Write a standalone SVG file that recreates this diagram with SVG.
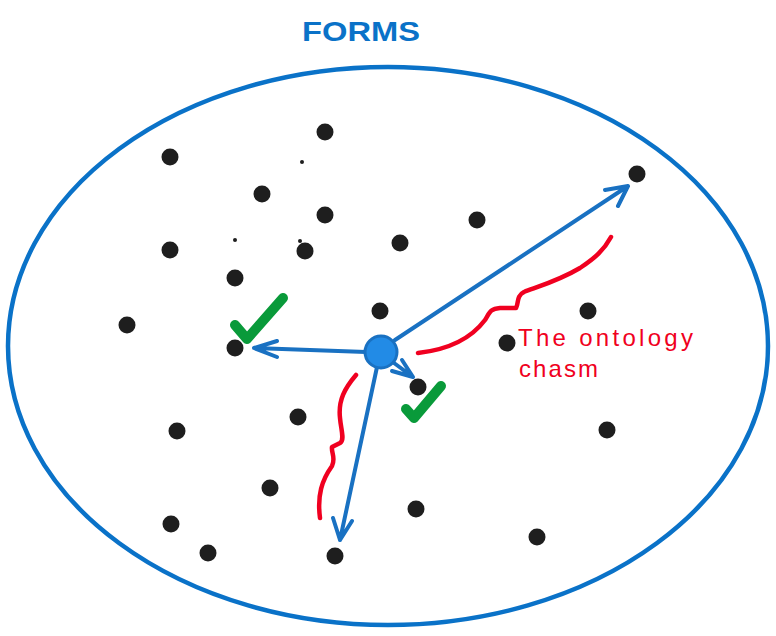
<svg xmlns="http://www.w3.org/2000/svg" width="776" height="636" viewBox="0 0 776 636">
<style>
.dot{fill:#1e1e1e}
.blue{fill:none;stroke:#1971c2;stroke-width:4;stroke-linecap:round;stroke-linejoin:round}
.red2{fill:none;stroke:#f00020;stroke-width:4.5;stroke-linecap:round;stroke-linejoin:round}
.green{fill:none;stroke:#099a3a;stroke-width:10;stroke-linecap:round;stroke-linejoin:round}
.t{font-family:"Liberation Sans",Arial,sans-serif}
</style>
<rect width="776" height="636" fill="#fff"/>
<g id="forms">
<ellipse cx="388" cy="346" rx="380" ry="279" fill="none" stroke="#0a72c8" stroke-width="4.5"/>
<text class="t" x="302" y="41" font-size="28" font-weight="bold" fill="#0a72c8" textLength="118" lengthAdjust="spacingAndGlyphs">FORMS</text>
</g>
<g id="dots">
<circle class="dot" cx="325" cy="132" r="8.5"/>
<circle class="dot" cx="170" cy="157" r="8.5"/>
<circle class="dot" cx="262" cy="194" r="8.5"/>
<circle class="dot" cx="325" cy="215" r="8.5"/>
<circle class="dot" cx="477" cy="220" r="8.5"/>
<circle class="dot" cx="170" cy="250" r="8.5"/>
<circle class="dot" cx="305" cy="251" r="8.5"/>
<circle class="dot" cx="400" cy="243" r="8.5"/>
<circle class="dot" cx="235" cy="278" r="8.5"/>
<circle class="dot" cx="127" cy="325" r="8.5"/>
<circle class="dot" cx="380" cy="311" r="8.5"/>
<circle class="dot" cx="588" cy="311" r="8.5"/>
<circle class="dot" cx="507" cy="343" r="8.5"/>
<circle class="dot" cx="235" cy="348" r="8.5"/>
<circle class="dot" cx="418" cy="387" r="8.5"/>
<circle class="dot" cx="298" cy="417" r="8.5"/>
<circle class="dot" cx="177" cy="431" r="8.5"/>
<circle class="dot" cx="607" cy="430" r="8.5"/>
<circle class="dot" cx="270" cy="488" r="8.5"/>
<circle class="dot" cx="416" cy="509" r="8.5"/>
<circle class="dot" cx="171" cy="524" r="8.5"/>
<circle class="dot" cx="208" cy="553" r="8.5"/>
<circle class="dot" cx="335" cy="556" r="8.5"/>
<circle class="dot" cx="537" cy="537" r="8.5"/>
<circle class="dot" cx="637" cy="174" r="8.5"/>
<circle class="dot" cx="302" cy="162" r="2"/>
<circle class="dot" cx="235" cy="240" r="2"/>
<circle class="dot" cx="300" cy="241" r="2"/>
</g>
<g id="connectors">
<path class="blue" d="M395 340 L628 186 M605 190 L628 186 L618 206"/>
<path class="blue" d="M366 352 L254 348 M277 341 L254 348 L277 357"/>
<path class="blue" d="M394 363 L413 377 M402 360 L413 377 L392 371"/>
<path class="blue" d="M377 367 L340 540 M333 518 L340 540 L352 521"/>
</g>
<g id="center">
<circle cx="381" cy="352" r="16" fill="#228be6" stroke="#1971c2" stroke-width="3"/>
</g>
<g id="checks">
<path class="green" d="M235 325 L247 339 L283 298"/>
<path class="green" d="M406 409 L414 418 L441 386"/>
</g>
<g id="chasm">
<path class="red2" d="M418 353 C445 350 470 340 485 320 C490 312 490 309 500 308 L516 308 C519 303 516 296 524 292 C540 286 560 280 580 268 C595 258 604 250 611 237"/>
<path class="red2" d="M356 375 C345 388 338 400 340 418 C341 430 345 440 340 443 L332 447 C331 452 336 458 332 466 C322 480 317 495 320 518"/>
<text class="t" x="518" y="346" font-size="24" fill="#f00020" textLength="175" lengthAdjust="spacing">The ontology</text>
<text class="t" x="519" y="377" font-size="24" fill="#f00020" textLength="79" lengthAdjust="spacing">chasm</text>
</g>
</svg>
